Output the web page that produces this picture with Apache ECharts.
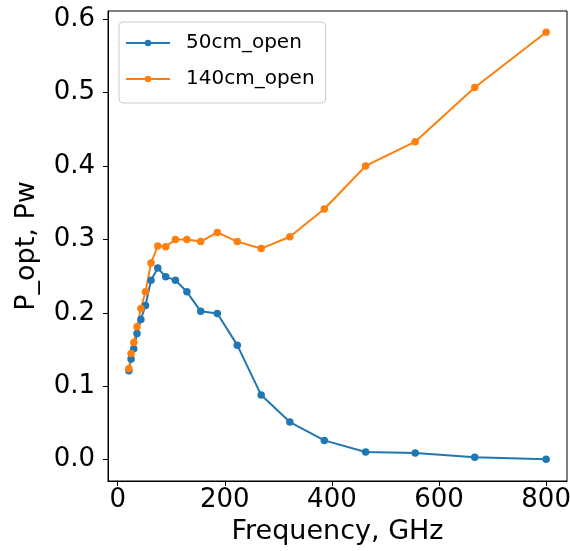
<!DOCTYPE html>
<html>
<head>
<meta charset="utf-8">
<script src="https://cdn.jsdelivr.net/npm/echarts@6/dist/echarts.min.js"></script>
<style>
html,body{margin:0;padding:0;background:#fff;}
#chart{width:570px;height:551px;}
</style>
</head>
<body>
<div id="chart"></div>
<script>
var freqs = [20.9, 25.0, 30.0, 36.1, 43.3, 51.9, 62.3, 74.8, 89.7, 107.7, 129.2, 155.0, 186.0, 223.3, 267.9, 321.5, 385.8, 463.0, 555.6, 666.7, 800.0];
var p50 = [0.121, 0.137, 0.151, 0.172, 0.191, 0.210, 0.2445, 0.261, 0.249, 0.2445, 0.2286, 0.202, 0.199, 0.156, 0.088, 0.0513, 0.0263, 0.0104, 0.009, 0.0035, 0.0005];
var p140 = [0.124, 0.1446, 0.1595, 0.181, 0.206, 0.2286, 0.268, 0.291, 0.290, 0.300, 0.300, 0.297, 0.3095, 0.297, 0.2875, 0.3036, 0.3413, 0.400, 0.433, 0.5068, 0.582];
var seriesNames = ['50cm_open', '140cm_open'];
var xTicks = [0, 200, 400, 600, 800];
var yTicks = [0, 0.1, 0.2, 0.3, 0.4, 0.5, 0.6];

function pairs(xs, ys) { return xs.map(function (x, i) { return [x, ys[i]]; }); }

var FONT = 'DejaVu Sans';
var chart = echarts.init(document.getElementById('chart'), null, {renderer: 'canvas'});
chart.setOption({
  animation: false,
  backgroundColor: '#fff',
  textStyle: {fontFamily: FONT, color: '#000'},
  grid: {
    left: 108, top: 11, right: 3, bottom: 70,
    containLabel: false, outerBoundsMode: 'none',
    show: true, borderColor: '#000', borderWidth: 1, backgroundColor: 'transparent'
  },
  legend: {
    orient: 'vertical', left: 119, top: 22,
    padding: [9, 11, 12, 6],
    itemWidth: 44, itemHeight: 8, itemGap: 12,
    backgroundColor: 'rgba(255,255,255,0.8)',
    borderColor: '#cccccc', borderWidth: 1, borderRadius: 4,
    textStyle: {fontFamily: FONT, fontSize: 20, color: '#000', lineHeight: 24, padding: [0, 0, 0, 11]},
    data: seriesNames
  },
  xAxis: {
    type: 'value', min: -18.1, max: 839,
    name: 'Frequency, GHz', nameLocation: 'middle', nameGap: 37,
    nameTextStyle: {fontFamily: FONT, fontSize: 27, color: '#000'},
    axisLine: {show: true, onZero: false, lineStyle: {color: '#000', width: 1}},
    axisTick: {show: true, length: 5, lineStyle: {color: '#000', width: 1}, customValues: xTicks},
    axisLabel: {fontFamily: FONT, fontSize: 26, color: '#000', margin: 6, customValues: xTicks},
    splitLine: {show: false}
  },
  yAxis: {
    type: 'value', min: -0.029, max: 0.611,
    name: 'P_opt, Pw', nameLocation: 'middle', nameGap: 68,
    nameTextStyle: {fontFamily: FONT, fontSize: 27, color: '#000'},
    axisLine: {show: true, onZero: false, lineStyle: {color: '#000', width: 1}},
    axisTick: {show: true, length: 5, lineStyle: {color: '#000', width: 1}, customValues: yTicks},
    axisLabel: {fontFamily: FONT, fontSize: 26, color: '#000', margin: 13, customValues: yTicks,
      formatter: function (v) { return v.toFixed(1); }},
    splitLine: {show: false}
  },
  series: [
    {
      name: seriesNames[0], type: 'line', data: pairs(freqs, p50),
      color: '#1f77b4', symbol: 'circle', symbolSize: 7.5, showSymbol: true,
      lineStyle: {width: 2, color: '#1f77b4'}, itemStyle: {color: '#1f77b4'}
    },
    {
      name: seriesNames[1], type: 'line', data: pairs(freqs, p140),
      color: '#ff7f0e', symbol: 'circle', symbolSize: 7.5, showSymbol: true,
      lineStyle: {width: 2, color: '#ff7f0e'}, itemStyle: {color: '#ff7f0e'}
    }
  ]
});
</script>
</body>
</html>
